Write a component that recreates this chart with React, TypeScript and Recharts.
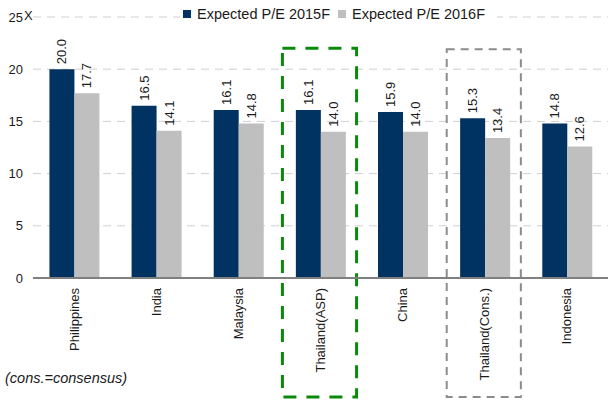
import React from 'react';
import {
  BarChart,
  Bar,
  XAxis,
  YAxis,
  CartesianGrid,
  LabelList,
  ReferenceArea,
} from 'recharts';

const countries = [
  'Philippines',
  'India',
  'Malaysia',
  'Thailand(ASP)',
  'China',
  'Thailand(Cons.)',
  'Indonesia',
];
const pe2015 = [20.0, 16.5, 16.1, 16.1, 15.9, 15.3, 14.8];
const pe2016 = [17.7, 14.1, 14.8, 14.0, 14.0, 13.4, 12.6];
const yTicks = [0, 5, 10, 15, 20, 25];

const NAVY = '#003262';
const GREY = '#bfbfbf';
const FONT = '"Liberation Sans", Arial, sans-serif';

const data = countries.map((c, i) => ({ name: c, pe2015: pe2015[i], pe2016: pe2016[i] }));

function ValueLabel(props: any) {
  const { x, y, width, value } = props;
  const cx = Number(x) + Number(width) / 2;
  const cy = Number(y) - 5;
  return (
    <text
      x={cx}
      y={cy}
      transform={`rotate(-90, ${cx}, ${cy})`}
      textAnchor="start"
      dominantBaseline="central"
      fontSize={13}
      fontFamily={FONT}
      fill="#1a1a1a"
    >
      {Number(value).toFixed(1)}
    </text>
  );
}

function CategoryTick(props: any) {
  const { x, y, payload } = props;
  const ty = y + 10;
  return (
    <text
      x={x}
      y={ty}
      transform={`rotate(-90, ${x}, ${ty})`}
      textAnchor="end"
      dominantBaseline="central"
      fontSize={13}
      fontFamily={FONT}
      fill="#1a1a1a"
    >
      {payload.value}
    </text>
  );
}

// dashed highlight box, a little narrower than the category band
function DashedBox(color: string, sw: number, dash: string) {
  return (p: any) => (
    <rect
      x={p.x + 3}
      y={p.y}
      width={p.width - 8}
      height={p.height}
      fill="none"
      stroke={color}
      strokeWidth={sw}
      strokeDasharray={dash}
    />
  );
}

function LegendItem({ color, label }: { color: string; label: string }) {
  return (
    <span style={{ display: 'inline-flex', alignItems: 'center', marginRight: 8 }}>
      <span style={{ width: 8, height: 8, background: color, display: 'inline-block', marginRight: 6 }} />
      {label}
    </span>
  );
}

export default function App() {
  return (
    <div style={{ position: 'absolute', left: 0, top: 0, width: 608, height: 400, background: '#fff', fontFamily: FONT }}>
      <BarChart
        width={608}
        height={400}
        data={data}
        margin={{ top: 17, right: 0, left: 0, bottom: 0 }}
        barCategoryGap="20%"
        barGap={0}
      >
        <CartesianGrid vertical={false} stroke="#cfcfcf" strokeDasharray="8 6" />
        <XAxis
          dataKey="name"
          height={122}
          interval={0}
          tickLine={false}
          tickSize={0}
          tickMargin={0}
          axisLine={{ stroke: '#808080', strokeWidth: 2 }}
          tick={<CategoryTick />}
        />
        <YAxis
          width={33}
          domain={[0, 25]}
          ticks={yTicks}
          axisLine={false}
          tickLine={false}
          tickSize={0}
          tickMargin={10}
          tick={{ fontSize: 13, fill: '#1a1a1a', fontFamily: FONT }}
        />
        <ReferenceArea
          x1="Thailand(ASP)"
          x2="Thailand(ASP)"
          y1={-11.4}
          y2={22}
          ifOverflow="visible"
          shape={DashedBox('#0a8a0a', 3, '13 10')}
        />
        <ReferenceArea
          x1="Thailand(Cons.)"
          x2="Thailand(Cons.)"
          y1={-11.4}
          y2={21.9}
          ifOverflow="visible"
          shape={DashedBox('#8c8c8c', 2, '8 6')}
        />
        <Bar dataKey="pe2015" name="Expected P/E 2015F" fill={NAVY} isAnimationActive={false}>
          <LabelList dataKey="pe2015" content={<ValueLabel />} />
        </Bar>
        <Bar dataKey="pe2016" name="Expected P/E 2016F" fill={GREY} isAnimationActive={false}>
          <LabelList dataKey="pe2016" content={<ValueLabel />} />
        </Bar>
      </BarChart>
      <div
        style={{
          position: 'absolute',
          left: 180,
          top: 6,
          padding: '0 4px 0 3px',
          background: '#fff',
          fontSize: 14.5,
          color: '#1a1a1a',
          display: 'flex',
          whiteSpace: 'nowrap',
        }}
      >
        <LegendItem color={NAVY} label="Expected P/E 2015F" />
        <LegendItem color={GREY} label="Expected P/E 2016F" />
      </div>
      <div style={{ position: 'absolute', left: 24, top: 8, fontSize: 13, color: '#1a1a1a' }}>X</div>
      <div style={{ position: 'absolute', left: 5, top: 370, fontSize: 14.5, fontStyle: 'italic', color: '#1a1a1a' }}>
        (cons.=consensus)
      </div>
    </div>
  );
}
